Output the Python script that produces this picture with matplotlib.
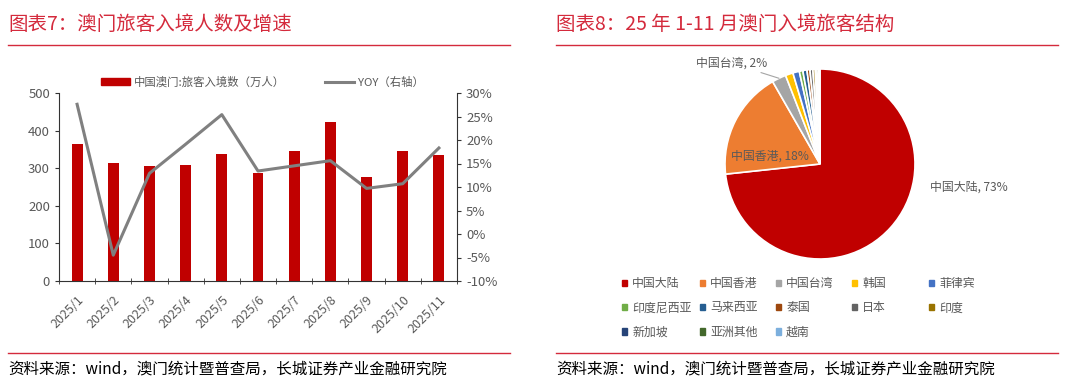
import matplotlib.pyplot as plt
import numpy as np
from matplotlib.lines import Line2D
from matplotlib.patches import Patch

plt.rcParams['font.family'] = ['Noto Sans CJK SC', 'DejaVu Sans']

# Daten
months = ['2025/1', '2025/2', '2025/3', '2025/4', '2025/5', '2025/6',
          '2025/7', '2025/8', '2025/9', '2025/10', '2025/11']
visitors = [364, 314, 307, 309, 337, 288, 347, 422, 277, 347, 335]
yoy = [27.6, -4.5, 12.9, 19.1, 25.4, 13.4, 14.5, 15.6, 9.7, 10.7, 18.3]

regions = ['中国大陆', '中国香港', '中国台湾', '韩国', '菲律宾', '印度尼西亚', '马来西亚',
           '泰国', '日本', '印度', '新加坡', '亚洲其他', '越南']
shares = [73.3, 18.4, 2.4, 1.3, 1.1, 0.6, 0.7, 0.5, 0.5, 0.4, 0.3, 0.3, 0.2]
pie_colors = ['#C00000', '#ED7D31', '#A5A5A5', '#FFC000', '#4472C4', '#70AD47', '#255E91',
              '#9E480E', '#636363', '#997300', '#264478', '#43682B', '#7CAFDD']

W, H = 1080, 390
fig = plt.figure(figsize=(W / 100, H / 100), dpi=100)
RED = '#D42A3C'
GRAY = '#595959'


def px(x0, y0, w, h):
    # Pixel-Box (oben links) -> Figurkoordinaten
    return [x0 / W, 1 - (y0 + h) / H, w / W, h / H]


# Titel, Linien, Quellen
for x0, x1, title in [(8, 510, '图表7：澳门旅客入境人数及增速'),
                      (556, 1058, '图表8：25 年 1-11 月澳门入境旅客结构')]:
    fig.text(x0 / W, 1 - 24 / H, title, color=RED, fontsize=14, va='center')
    fig.add_artist(Line2D([x0 / W, x1 / W], [1 - 45 / H] * 2, color=RED, lw=1.0))
    fig.add_artist(Line2D([x0 / W, x1 / W], [1 - 353 / H] * 2, color=RED, lw=1.0))
    fig.text(x0 / W, 1 - 369 / H, '资料来源：wind，澳门统计暨普查局，长城证券产业金融研究院',
             color='black', fontsize=11.2, va='center')

# Linkes Diagramm: Balken + YOY
ax = fig.add_axes(px(59, 93, 398, 188))
x = np.arange(len(months))
ax.bar(x, visitors, width=0.3, color='#C00000', zorder=2)
ax.set_xlim(-0.5, len(months) - 0.5)
ax.set_ylim(0, 500)
ax.set_yticks(range(0, 501, 100))
ax.set_xticks(x)
ax.set_xticklabels(months, rotation=45, ha='right', rotation_mode='anchor')
ax.set_xticks(np.arange(-0.5, len(months), 1), minor=True)
ax.tick_params(axis='x', which='major', length=0, labelsize=9, colors=GRAY, pad=9)
ax.tick_params(axis='x', which='minor', length=4, direction='inout', color='#333333')
ax.tick_params(axis='y', labelsize=9.5, colors=GRAY, length=3, color='#333333')
for s in ['top', 'right']:
    ax.spines[s].set_visible(False)
for s in ['left', 'bottom']:
    ax.spines[s].set_color('#333333')

ax2 = ax.twinx()
ax2.plot(x, yoy, color='#808080', lw=2.2, zorder=3)
ax2.set_ylim(-10, 30)
ax2.set_yticks(range(-10, 31, 5))
ax2.set_yticklabels([f'{v}%' for v in range(-10, 31, 5)])
ax2.tick_params(axis='y', labelsize=9.5, colors=GRAY, length=3, color='#333333')
for s in ['top', 'left', 'bottom']:
    ax2.spines[s].set_visible(False)
ax2.spines['right'].set_color('#333333')

handles = [Patch(color='#C00000'), Line2D([], [], color='#808080', lw=2.2)]
fig.legend(handles, ['中国澳门:旅客入境数（万人）', 'YOY（右轴）'], loc='center',
           bbox_to_anchor=(262 / W, 1 - 82 / H), ncol=2, frameon=False, fontsize=8.2,
           labelcolor=GRAY, handlelength=2.6, handleheight=0.6, handletextpad=0.3,
           columnspacing=3.5)

# Rechtes Diagramm: Kreis
R = 95
pax = fig.add_axes(px(820 - 1.2 * R, 164 - 1.2 * R, 2.4 * R, 2.4 * R))
wedges, _ = pax.pie(shares, colors=pie_colors, startangle=90, counterclock=False,
                    wedgeprops=dict(edgecolor='white', linewidth=1.2))
pax.set_xlim(-1.2, 1.2)
pax.set_ylim(-1.2, 1.2)
pax.set_aspect('equal')
pax.axis('off')

pax.text(1.16, -0.24, f'{regions[0]}, {shares[0]:.0f}%', fontsize=8.6, color=GRAY, va='center')
pax.text(-0.53, 0.08, f'{regions[1]}, {shares[1]:.0f}%', fontsize=8.6, color=GRAY,
         ha='center', va='center')
tw = wedges[2]
mid = np.deg2rad((tw.theta1 + tw.theta2) / 2)
pax.annotate(f'{regions[2]}, {shares[2]:.0f}%', xy=(np.cos(mid), np.sin(mid)),
             xytext=(-0.93, 1.06), fontsize=8.6, color=GRAY, ha='center', va='center',
             arrowprops=dict(arrowstyle='-', color='#A5A5A5', lw=0.8, shrinkA=19, shrinkB=0))

# Legende: fünf Spalten
col_x = [630, 708, 784, 860, 937]
for c, cx in enumerate(col_x):
    idx = list(range(c, len(regions), 5))
    hs = [Patch(color=pie_colors[i]) for i in idx]
    fig.legend(hs, [regions[i] for i in idx], loc='upper left',
               bbox_to_anchor=((cx - 8) / W, 1 - 277 / H), frameon=False, fontsize=8.6,
               labelcolor=GRAY, handlelength=0.45, handleheight=0.45, handletextpad=0.4,
               labelspacing=0.95, borderpad=0, borderaxespad=0)

fig.savefig('out.png', dpi=100)
